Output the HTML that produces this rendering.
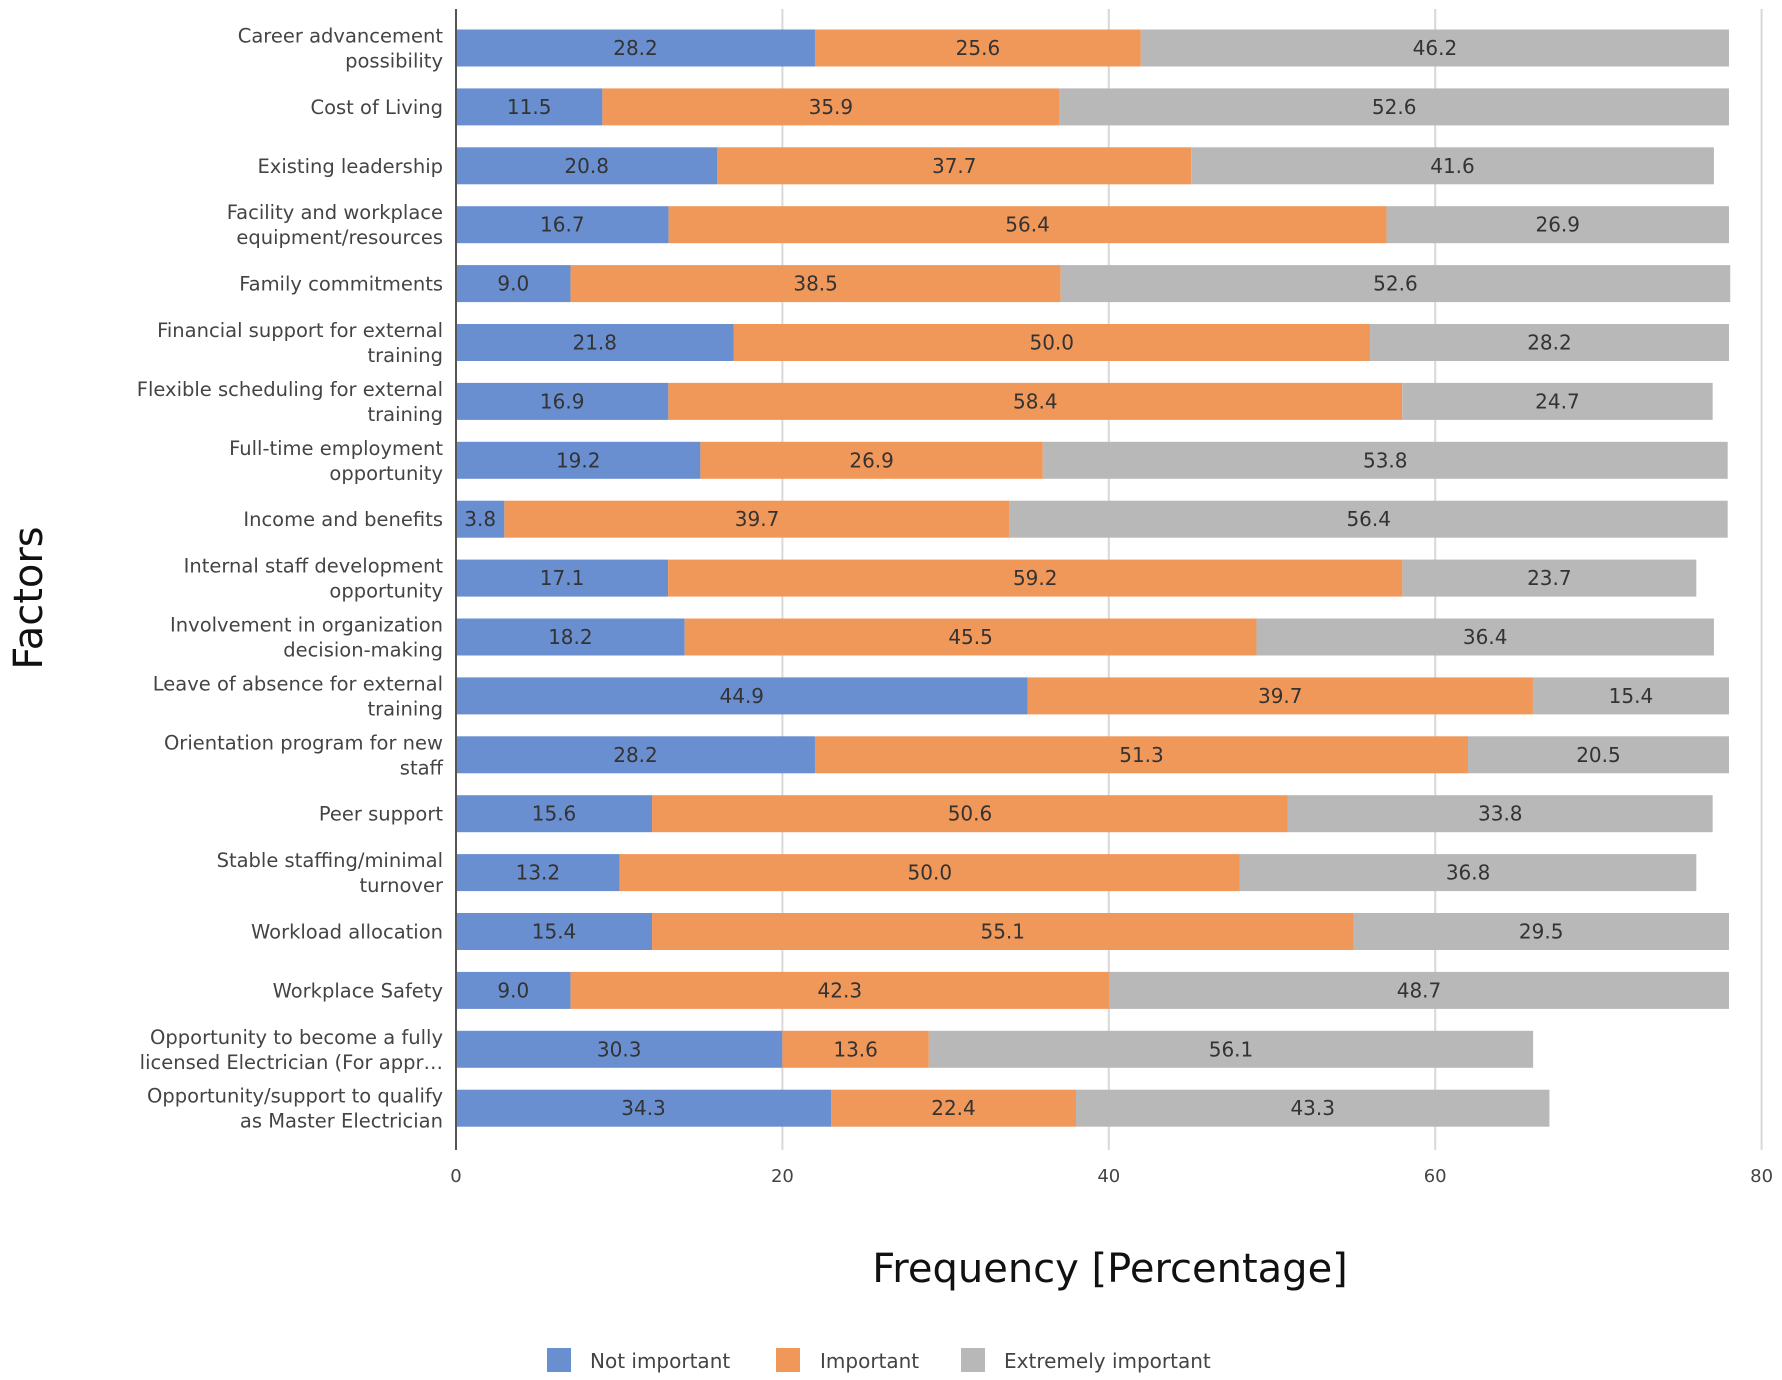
<!DOCTYPE html>
<html><head><meta charset="utf-8"><style>
body{margin:0;background:#fff}
svg{display:block;font-family:"DejaVu Sans","Liberation Sans",sans-serif}
</style></head><body>
<svg id="chart" width="1782" height="1380" viewBox="0 0 1782 1380" xmlns="http://www.w3.org/2000/svg">
<g id="grid"></g><g id="bars"></g><g id="cats"></g><g id="ticks"></g>
<line x1="456" y1="9" x2="456" y2="1150" stroke="#555" stroke-width="2"/>
<text x="1110" y="1282" font-size="40" text-anchor="middle" fill="#111">Frequency [Percentage]</text>
<text transform="translate(42,598) rotate(-90)" font-size="40" text-anchor="middle" fill="#111">Factors</text>
<g font-size="20" fill="#444">
<rect x="547" y="1348" width="24" height="24" fill="#6a8fd0"/>
<text x="590" y="1368">Not important</text>
<rect x="776" y="1348" width="24" height="24" fill="#f0985a"/>
<text x="820" y="1368">Important</text>
<rect x="961" y="1348" width="24" height="24" fill="#b8b8b8"/>
<text x="1004" y="1368">Extremely important</text>
</g>
</svg>
<script>
const categories=[["Career advancement","possibility"],["Cost of Living"],["Existing leadership"],["Facility and workplace","equipment/resources"],["Family commitments"],["Financial support for external","training"],["Flexible scheduling for external","training"],["Full-time employment","opportunity"],["Income and benefits"],["Internal staff development","opportunity"],["Involvement in organization","decision-making"],["Leave of absence for external","training"],["Orientation program for new","staff"],["Peer support"],["Stable staffing/minimal","turnover"],["Workload allocation"],["Workplace Safety"],["Opportunity to become a fully","licensed Electrician (For appr…"],["Opportunity/support to qualify","as Master Electrician"]];
const notImportant=[28.2,11.5,20.8,16.7,9.0,21.8,16.9,19.2,3.8,17.1,18.2,44.9,28.2,15.6,13.2,15.4,9.0,30.3,34.3];
const important=[25.6,35.9,37.7,56.4,38.5,50.0,58.4,26.9,39.7,59.2,45.5,39.7,51.3,50.6,50.0,55.1,42.3,13.6,22.4];
const extremelyImportant=[46.2,52.6,41.6,26.9,52.6,28.2,24.7,53.8,56.4,23.7,36.4,15.4,20.5,33.8,36.8,29.5,48.7,56.1,43.3];
const respondents=[78,78,77,78,78,78,77,78,78,76,77,78,78,77,76,78,78,66,67];
const xTicks=[0,20,40,60,80];
const NS="http://www.w3.org/2000/svg";
const x0=456,pxPerUnit=16.32,y0=48,rowStep=58.9,barH=37;
const xs=v=>x0+v*pxPerUnit;
const yc=i=>y0+i*rowStep;
function mk(tag,attrs,parent){const e=document.createElementNS(NS,tag);for(const k in attrs)e.setAttribute(k,attrs[k]);document.getElementById(parent).appendChild(e);return e;}
xTicks.forEach(t=>{
  if(t>0){const g=mk('line',{x1:xs(t),x2:xs(t),y1:9,y2:1150,stroke:'#d8d8d8','stroke-width':2},'grid');
  
  }
  const tl=mk('text',{x:xs(t),y:1182,'font-size':18,'text-anchor':'middle',fill:'#444'},'ticks');
  tl.textContent=t;
  
  
});
const series=[[notImportant,'#6a8fd0','not-important'],[important,'#f0985a','important'],[extremelyImportant,'#b8b8b8','extremely-important']];
categories.forEach((c,i)=>{
  let acc=0;
  series.forEach(([arr,col,nm])=>{
    const len=arr[i]*respondents[i]/100;
    const r=mk('rect',{x:xs(acc),y:yc(i)-barH/2,width:len*pxPerUnit,height:barH,fill:col},'bars');
    
    
    const t=mk('text',{x:xs(acc+len/2),y:yc(i)+7,'font-size':20,'text-anchor':'middle',fill:'#333'},'bars');
    t.textContent=arr[i].toFixed(1);
    
    
    acc+=len;
  });
  const lbl=mk('text',{x:443,'font-size':19.5,'text-anchor':'end',fill:'#444'},'cats');
  
  
  c.forEach((line,k)=>{
    const ts=document.createElementNS(NS,'tspan');
    ts.setAttribute('x',443);
    ts.setAttribute('y',yc(i)+7+(k-(c.length-1)/2)*25);
    ts.textContent=line;lbl.appendChild(ts);
  });
});
</script>
</body></html>
